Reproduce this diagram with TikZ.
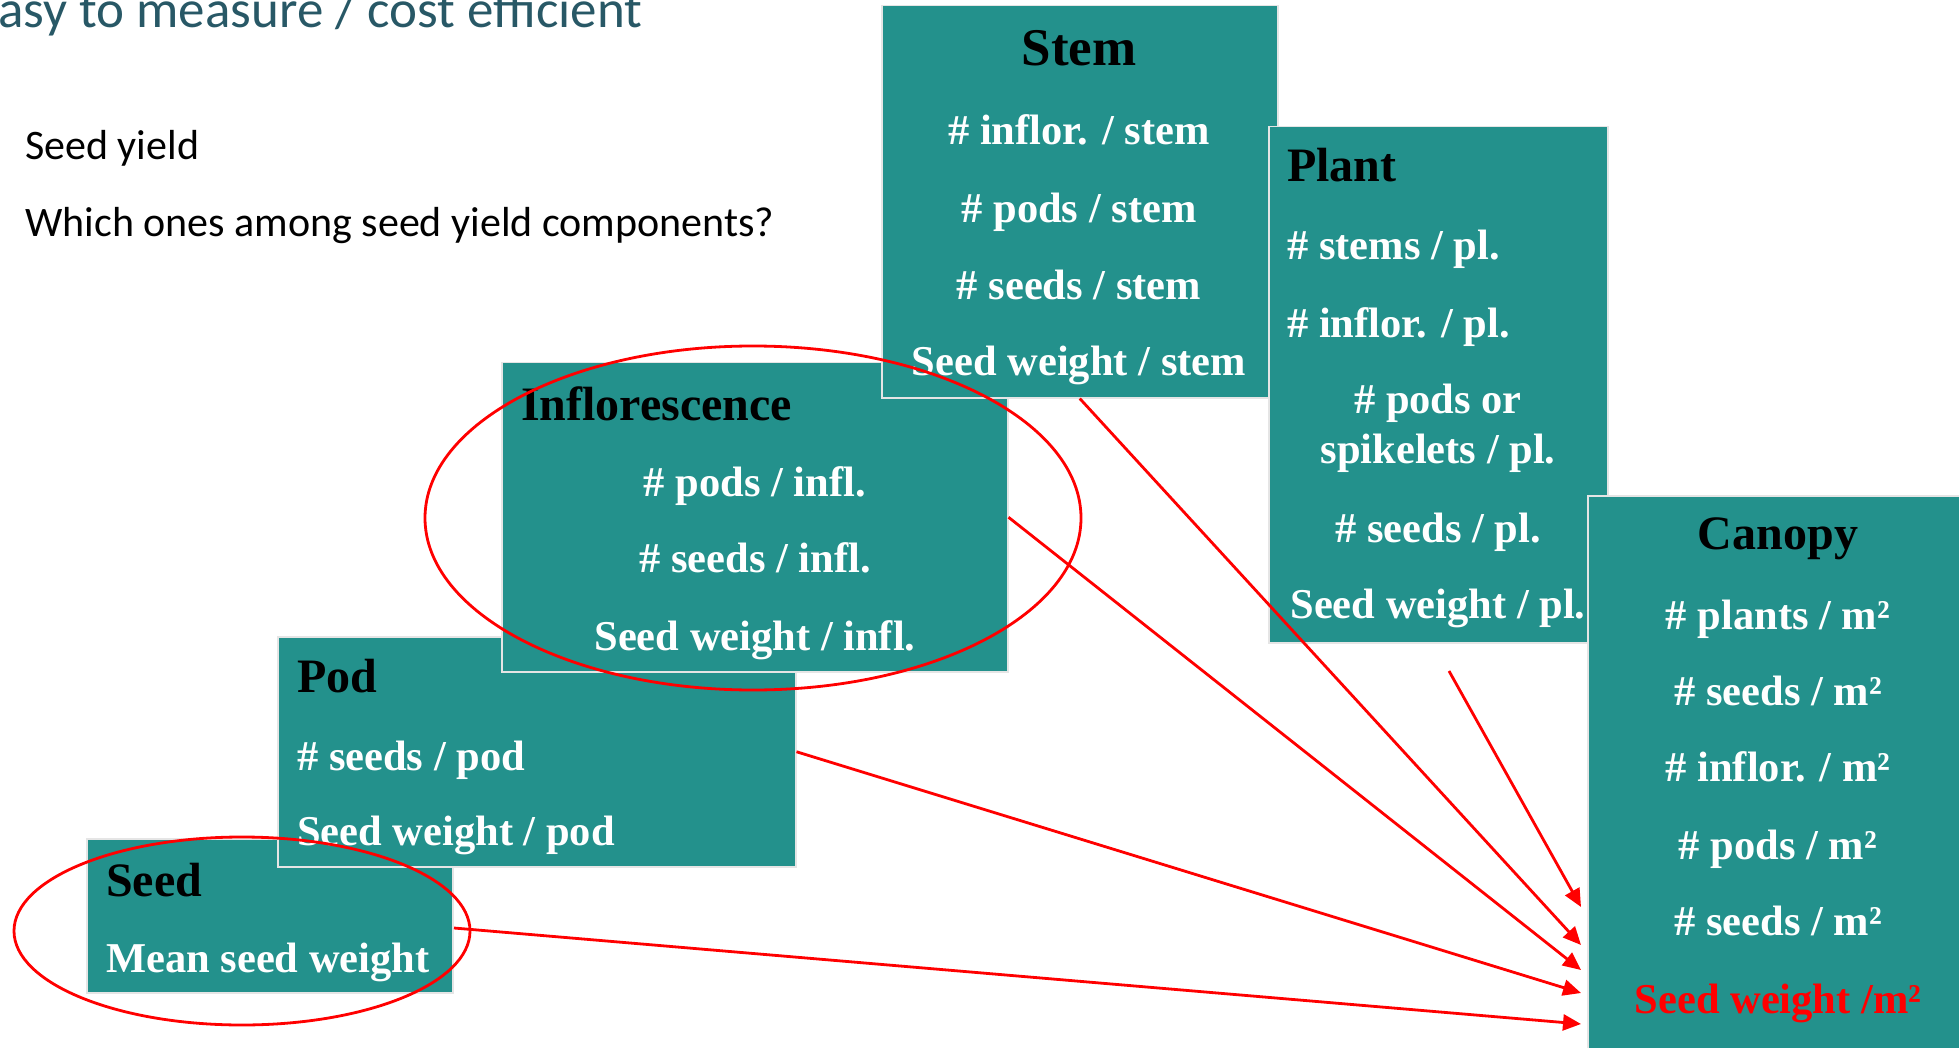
\documentclass[tikz,border=0pt]{standalone}
\usepackage{fontspec}
\setmainfont{Liberation Serif}
\newfontfamily\calibri{Carlito}
\usetikzlibrary{arrows.meta,shapes.geometric}
\definecolor{tealbox}{RGB}{35,145,140}
\definecolor{titlecol}{RGB}{40,88,102}
\begin{document}
\begin{tikzpicture}[x=1pt,y=-1pt,
  box/.style={rectangle, fill=tealbox, draw=white!90!black, line width=1.5pt, inner sep=0pt, anchor=north west},
  hd/.style={font=\fontsize{48}{56}\selectfont\bfseries, text=black, inner sep=0pt},
  it/.style={font=\fontsize{42.5}{50}\selectfont\bfseries, text=white, inner sep=0pt},
  conn/.style={red, line width=2.8pt, -{Triangle[length=18pt,width=16pt]}},
  ring/.style={ellipse, draw=red, line width=2.8pt, inner sep=0pt},
  side/.style={font=\calibri\fontsize{42}{50}\selectfont, text=black, inner sep=0pt, anchor=base west}]
\useasboundingbox (0,0) rectangle (1959,1048);
\clip (0,0) rectangle (1959,1048);

% header texts
\node[font=\calibri\fontsize{53}{60}\selectfont, text=titlecol, anchor=base west, inner sep=0pt] (title) at (-2,28) {asy to measure / cost efficient};
\node[side] (q1) at (25,160) {Seed yield};
\node[side] (q2) at (25,237) {Which ones among seed yield components?};

% Seed
\node[box, minimum width=366pt, minimum height=154pt] (seed) at (86,838) {};
\node[hd, anchor=base west] (seedT) at (106,896) {Seed};
\node[it, anchor=base west] (seed1) at (106,972) {Mean seed weight};

% Pod
\node[box, minimum width=518pt, minimum height=230pt] (pod) at (277,636) {};
\node[hd, anchor=base west] (podT) at (297,692) {Pod};
\node[it, anchor=base west] (pod1) at (297,770) {\# seeds / pod};
\node[it, anchor=base west] (pod2) at (297,845) {Seed weight / pod};

% Inflorescence
\node[box, minimum width=506pt, minimum height=309pt] (infl) at (501,362) {};
\node[hd, anchor=base west] (inflT) at (521,420) {Inflorescence};
\node[it, anchor=base] (infl1) at (755,496) {\# pods / infl.};
\node[it, anchor=base] (infl2) at (755,572) {\# seeds / infl.};
\node[it, anchor=base] (infl3) at (755,650) {Seed weight / infl.};

% Stem
\node[box, minimum width=396pt, minimum height=392pt] (stem) at (881,5) {};
\node[hd, anchor=base, font=\fontsize{53}{60}\selectfont\bfseries] (stemT) at (1079,66) {Stem};
\node[it, anchor=base] (stem1) at (1079,145) {\# inflor. / stem};
\node[it, anchor=base] (stem2) at (1079,223) {\# pods / stem};
\node[it, anchor=base] (stem3) at (1079,300) {\# seeds / stem};
\node[it, anchor=base] (stem4) at (1079,376) {Seed weight / stem};

% Plant
\node[box, minimum width=339pt, minimum height=516pt] (plant) at (1268,126) {};
\node[hd, anchor=base west] (plantT) at (1287,182) {Plant};
\node[it, anchor=base west] (plant1) at (1287,260) {\# stems / pl.};
\node[it, anchor=base west] (plant2) at (1287,338) {\# inflor. / pl.};
\node[it, anchor=base] (plant3) at (1438,413) {\# pods or};
\node[it, anchor=base] (plant4) at (1438,463) {spikelets / pl.};
\node[it, anchor=base] (plant5) at (1438,542) {\# seeds / pl.};
\node[it, anchor=base] (plant6) at (1438,618) {Seed weight / pl.};

% Canopy
\node[box, minimum width=413pt, minimum height=605pt] (canopy) at (1587,495) {};
\node[hd, anchor=base] (canT) at (1778,549) {Canopy};
\node[it, anchor=base] (can1) at (1778,629) {\# plants / m²};
\node[it, anchor=base] (can2) at (1778,705) {\# seeds / m²};
\node[it, anchor=base] (can3) at (1778,781) {\# inflor. / m²};
\node[it, anchor=base] (can4) at (1778,859) {\# pods / m²};
\node[it, anchor=base] (can5) at (1778,935) {\# seeds / m²};
\node[it, anchor=base, text=red] (can6) at (1778,1013) {Seed weight /m²};

% connectors
\coordinate (plantOut) at (1449,671);
\coordinate (seedOut) at (454,928);
\coordinate (c1) at (1581,907);
\coordinate (c2) at (1581,945);
\coordinate (c3) at (1581,970);
\coordinate (c4) at (1581,993);
\coordinate (c5) at (1581,1024);
\draw[conn] (plantOut) -- (c1);
\draw[conn] (stem.south) -- (c2);
\draw[conn] (infl.east) -- (c3);
\draw[conn] (pod.east) -- (c4);
\draw[conn] (seedOut) -- (c5);

% highlight rings
\node[ring, minimum width=656pt, minimum height=344pt] (ringInfl) at (753,518) {};
\node[ring, minimum width=456pt, minimum height=188pt] (ringSeed) at (242,931) {};
\end{tikzpicture}
\end{document}
